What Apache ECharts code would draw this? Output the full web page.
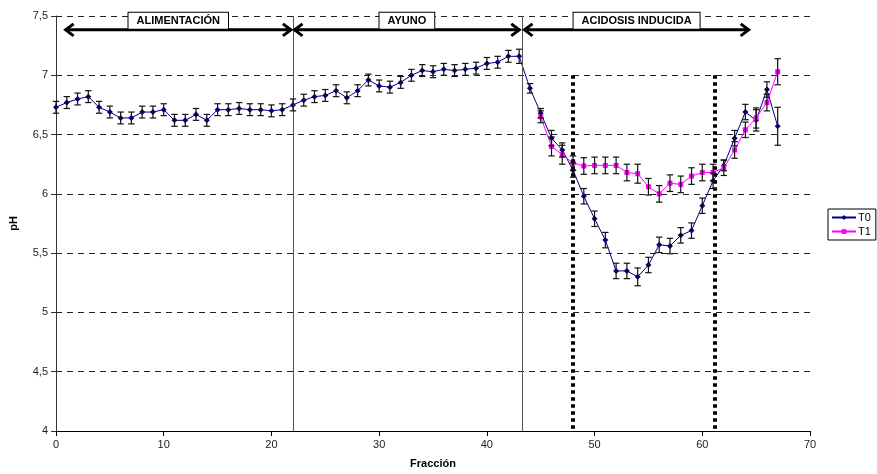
<!DOCTYPE html>
<html>
<head>
<meta charset="utf-8">
<script src="https://cdn.jsdelivr.net/npm/echarts@6/dist/echarts.min.js"></script>
<style>html,body{margin:0;padding:0;background:#fff}#c{width:877px;height:474px}</style>
</head>
<body>
<div id="c"></div>
<script>
// ---- data ----
const fractionT0 = [0,1,2,3,4,5,6,7,8,9,10,11,12,13,14,15,16,17,18,19,20,21,22,23,24,25,26,27,28,29,30,31,32,33,34,35,36,37,38,39,40,41,42,43,44,45,46,47,48,49,50,51,52,53,54,55,56,57,58,59,60,61,62,63,64,65,66,67];
const phT0 = [6.73,6.77,6.80,6.82,6.73,6.69,6.64,6.64,6.69,6.69,6.71,6.62,6.62,6.67,6.62,6.71,6.71,6.72,6.71,6.71,6.70,6.71,6.75,6.79,6.82,6.83,6.87,6.81,6.87,6.96,6.91,6.90,6.94,7.00,7.04,7.03,7.05,7.04,7.05,7.06,7.10,7.11,7.16,7.16,6.89,6.68,6.47,6.37,6.20,5.98,5.79,5.61,5.35,5.35,5.30,5.40,5.57,5.56,5.65,5.69,5.90,6.11,6.24,6.47,6.69,6.62,6.88,6.57];
const errT0 = [0.05,0.05,0.05,0.05,0.05,0.05,0.05,0.05,0.05,0.05,0.05,0.05,0.05,0.05,0.05,0.05,0.05,0.05,0.05,0.05,0.05,0.05,0.05,0.05,0.05,0.05,0.05,0.05,0.05,0.05,0.05,0.05,0.05,0.05,0.05,0.05,0.05,0.05,0.05,0.05,0.05,0.05,0.05,0.06,0.04,0.04,0.065,0.06,0.06,0.065,0.065,0.065,0.065,0.065,0.075,0.065,0.065,0.065,0.065,0.065,0.065,0.065,0.045,0.065,0.065,0.09,0.065,0.16];
const fractionT1 = [45,46,47,48,49,50,51,52,53,54,55,56,57,58,59,60,61,62,63,64,65,66,67];
const phT1 = [6.65,6.40,6.33,6.26,6.235,6.24,6.24,6.24,6.18,6.17,6.06,6.00,6.09,6.08,6.15,6.18,6.18,6.22,6.37,6.54,6.64,6.77,7.03];
const errT1 = [0.05,0.08,0.08,0.06,0.07,0.07,0.07,0.07,0.07,0.08,0.07,0.07,0.07,0.07,0.07,0.07,0.07,0.065,0.07,0.065,0.085,0.07,0.11];
const phaseLabels = ['ALIMENTACIÓN','AYUNO','ACIDOSIS INDUCIDA'];
const phaseStart = [0.8, 22.05, 43.4];
const phaseEnd = [21.9, 43.1, 64.4];
const phaseBounds = [22, 43.3];
const dottedMarks = [48, 61.2];
const yTicks = {min: 4, max: 7.5, step: 0.5};
const xTicks = {min: 0, max: 70, step: 10};

// ---- chart ----
const FONT = "'Liberation Sans', Arial, sans-serif";
const chart = echarts.init(document.getElementById('c'), null, {renderer: 'canvas'});

function errData(xs, ys, es) {
  return xs.map((x, i) => [x, ys[i] - es[i], ys[i] + es[i]]);
}
function errRender(params, api) {
  const x = api.value(0), lo = api.value(1), hi = api.value(2);
  const a = api.coord([x, lo]), b = api.coord([x, hi]);
  const w = 3.2;
  const st = {stroke: '#111', lineWidth: 1.2};
  return {type: 'group', children: [
    {type: 'line', shape: {x1: a[0], y1: a[1], x2: b[0], y2: b[1]}, style: st},
    {type: 'line', shape: {x1: a[0] - w, y1: a[1], x2: a[0] + w, y2: a[1]}, style: st},
    {type: 'line', shape: {x1: b[0] - w, y1: b[1], x2: b[0] + w, y2: b[1]}, style: st}
  ]};
}
const arrowY = 7.383;
const labelY = 7.46;
function phaseRender(params, api) {
  const s = api.coord([api.value(0), arrowY]);
  const e = api.coord([api.value(1), arrowY]);
  const m = api.coord([(api.value(0) + api.value(1)) / 2, labelY]);
  const hl = 9, hh = 6;
  const st = {stroke: '#000', lineWidth: 3, fill: null, lineJoin: 'miter'};
  return {type: 'group', children: [
    {type: 'line', shape: {x1: s[0] + 1, y1: s[1], x2: e[0] - 1, y2: e[1]}, style: st},
    {type: 'polyline', shape: {points: [[s[0] + hl, s[1] - hh], [s[0] + 1, s[1]], [s[0] + hl, s[1] + hh]]}, style: st},
    {type: 'polyline', shape: {points: [[e[0] - hl, e[1] - hh], [e[0] - 1, e[1]], [e[0] - hl, e[1] + hh]]}, style: st},
    {type: 'text', x: m[0], y: m[1], style: {
      text: phaseLabels[params.dataIndex], align: 'center', verticalAlign: 'middle',
      font: 'bold 11px ' + FONT, fill: '#000', backgroundColor: '#fff',
      borderColor: '#000', borderWidth: 1, padding: [3, 8, 2, 8]
    }}
  ]};
}

const option = {
  animation: false,
  backgroundColor: '#fff',
  textStyle: {fontFamily: FONT},
  grid: {left: 54, right: 67, top: 16, bottom: 40},
  legend: {
    data: ['T0', 'T1'], orient: 'vertical', left: 828, top: 209,
    padding: [3, 5, 3, 3], itemGap: 3, itemWidth: 24, itemHeight: 6,
    borderColor: '#000', borderWidth: 1, backgroundColor: '#fff',
    textStyle: {fontSize: 11, color: '#000', fontFamily: FONT, padding: [0, 0, 0, -3]}
  },
  xAxis: {
    type: 'value', min: xTicks.min, max: xTicks.max, interval: xTicks.step,
    name: 'Fracción', nameLocation: 'middle', nameGap: 27,
    nameTextStyle: {fontWeight: 'bold', fontSize: 11, color: '#000', fontFamily: FONT},
    axisLine: {show: true, onZero: false, lineStyle: {color: '#000', width: 1}},
    axisTick: {show: true, length: 5, lineStyle: {color: '#000'}},
    axisLabel: {fontSize: 11, color: '#222', margin: 8, fontFamily: FONT},
    splitLine: {show: false}
  },
  yAxis: {
    type: 'value', min: yTicks.min, max: yTicks.max, interval: yTicks.step,
    name: 'pH', nameLocation: 'middle', nameGap: 37,
    nameTextStyle: {fontWeight: 'bold', fontSize: 11, color: '#000', fontFamily: FONT},
    axisLine: {show: true, lineStyle: {color: '#333', width: 1}},
    axisTick: {show: true, length: 5, lineStyle: {color: '#333'}},
    axisLabel: {fontSize: 11, color: '#222', margin: 8, fontFamily: FONT,
      formatter: v => String(v).replace('.', ',')},
    splitLine: {show: true, lineStyle: {color: '#222', width: 1, type: [6, 5]}}
  },
  series: [
    {
      name: 'phase', type: 'custom', renderItem: phaseRender, silent: true, z: 5,
      data: phaseStart.map((s, i) => [s, phaseEnd[i]]), encode: {x: [0, 1]},
      markLine: {
        silent: true, symbol: 'none', label: {show: false},
        data: phaseBounds.map(b => ({xAxis: b, lineStyle: {color: '#555', width: 1, type: 'solid'}}))
          .concat(dottedMarks.map(d => [
            {coord: [d, 7], lineStyle: {color: '#000', width: 4, type: [3.5, 3.5], cap: 'butt'}},
            {coord: [d, yTicks.min]}
          ]))
      }
    },
    {
      name: 'T0', type: 'line', data: fractionT0.map((x, i) => [x, phT0[i]]),
      color: '#000080', symbol: 'diamond', symbolSize: 6, showSymbol: true,
      lineStyle: {width: 1, color: '#000080'}, itemStyle: {color: '#000080'}, z: 3
    },
    {
      name: 'T1', type: 'line', data: fractionT1.map((x, i) => [x, phT1[i]]),
      color: '#FF00FF', symbol: 'rect', symbolSize: 5, showSymbol: true,
      lineStyle: {width: 1, color: '#FF00FF'}, itemStyle: {color: '#FF00FF'}, z: 4
    },
    {
      name: 'errT0', type: 'custom', renderItem: errRender, silent: true, z: 6,
      data: errData(fractionT0, phT0, errT0), encode: {x: 0, y: [1, 2]}
    },
    {
      name: 'errT1', type: 'custom', renderItem: errRender, silent: true, z: 6,
      data: errData(fractionT1, phT1, errT1), encode: {x: 0, y: [1, 2]}
    }
  ]
};
chart.setOption(option);
</script>
</body>
</html>
